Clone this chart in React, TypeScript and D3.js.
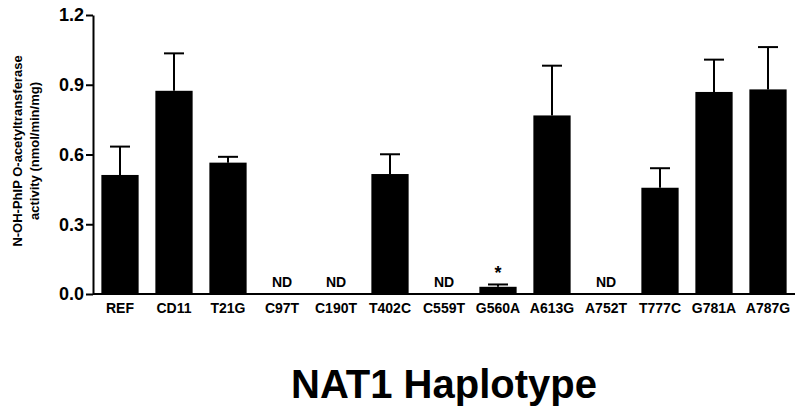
import React, { useEffect, useRef } from 'react';
import * as d3 from 'd3';

const haplotypes = ['REF', 'CD11', 'T21G', 'C97T', 'C190T', 'T402C', 'C559T', 'G560A', 'A613G', 'A752T', 'T777C', 'G781A', 'A787G'];
// null = not detected (ND)
const activity = [0.512, 0.874, 0.565, null, null, 0.516, null, 0.031, 0.768, null, 0.457, 0.869, 0.880];
const errUpper = [0.634, 1.035, 0.590, null, null, 0.601, null, 0.041, 0.982, null, 0.541, 1.008, 1.062];
const starred = ['G560A'];
const yTicks = [0, 0.3, 0.6, 0.9, 1.2];

export default function App() {
    const ref = useRef<SVGSVGElement | null>(null);
    useEffect(() => {
        const svg = d3.select(ref.current);
        svg.selectAll('*').remove();
        const width = 800, height = 408;
        const margin = { top: 15, right: 5, bottom: 114, left: 93 };
        const font = '"Liberation Sans", Arial, Helvetica, sans-serif';
        const data = haplotypes.map((k, i) => ({ k, v: activity[i], e: errUpper[i] }));

        const x = d3.scaleBand().domain(haplotypes).range([margin.left, width - margin.right]).paddingInner(0.31).paddingOuter(0.155);
        const y = d3.scaleLinear().domain([0, 1.2]).range([height - margin.bottom, margin.top]);

        svg.attr('viewBox', `0 0 ${width} ${height}`).attr('width', width).attr('height', height);

        // bars
        const measured = data.filter(d => d.v != null);
        svg.append('g').selectAll('rect').data(measured).join('rect')
            .attr('x', d => x(d.k)!)
            .attr('y', d => y(d.v as number))
            .attr('width', x.bandwidth())
            .attr('height', d => y(0) - y(d.v as number))
            .attr('fill', '#000');

        // error bars (upper only)
        const eb = svg.append('g').attr('stroke', '#000').attr('stroke-width', 2);
        measured.forEach(d => {
            const cx = x(d.k)! + x.bandwidth() / 2;
            eb.append('line').attr('x1', cx).attr('x2', cx).attr('y1', y(d.v as number)).attr('y2', y(d.e as number));
            eb.append('line').attr('x1', cx - 10).attr('x2', cx + 10).attr('y1', y(d.e as number)).attr('y2', y(d.e as number));
        });

        // ND labels
        svg.append('g').selectAll('text').data(data.filter(d => d.v == null)).join('text')
            .attr('x', d => x(d.k)! + x.bandwidth() / 2)
            .attr('y', y(0) - 7)
            .attr('text-anchor', 'middle')
            .attr('font-family', font).attr('font-weight', 'bold').attr('font-size', 14)
            .text('ND');

        // significance star
        svg.append('g').selectAll('text').data(data.filter(d => starred.includes(d.k))).join('text')
            .attr('x', d => x(d.k)! + x.bandwidth() / 2)
            .attr('y', d => y(d.e as number) - 5)
            .attr('text-anchor', 'middle')
            .attr('font-family', font).attr('font-weight', 'bold').attr('font-size', 18)
            .text('*');

        // axes
        const xa = svg.append('g').attr('transform', `translate(0,${y(0)})`)
            .call(d3.axisBottom(x).tickSize(0).tickPadding(9));
        xa.select('.domain').attr('stroke', '#000').attr('stroke-width', 2).attr('d', `M${margin.left},0H${width - margin.right}`);
        xa.selectAll('text').attr('font-family', font).attr('font-weight', 'bold').attr('font-size', 14).attr('fill', '#000');

        const ya = svg.append('g').attr('transform', `translate(${margin.left},0)`)
            .call(d3.axisLeft(y).tickValues(yTicks).tickFormat(d3.format('.1f')).tickSize(7).tickPadding(2).tickSizeOuter(0));
        ya.select('.domain').attr('stroke', '#000').attr('stroke-width', 2);
        ya.selectAll('.tick line').attr('stroke', '#000').attr('stroke-width', 2);
        ya.selectAll('text').attr('font-family', font).attr('font-weight', 'bold').attr('font-size', 18).attr('fill', '#000');

        // y axis title
        const yt = svg.append('text').attr('transform', `translate(0,151) rotate(-90)`)
            .attr('text-anchor', 'middle')
            .attr('font-family', font).attr('font-weight', 'bold').attr('font-size', 13);
        yt.append('tspan').attr('x', 0).attr('y', 22).text('N-OH-PhIP O-acetyltransferase');
        yt.append('tspan').attr('x', 0).attr('y', 39).text('activity (nmol/min/mg)');

        // x axis title
        svg.append('text')
            .attr('x', (margin.left + width - margin.right) / 2)
            .attr('y', 398)
            .attr('text-anchor', 'middle')
            .attr('font-family', font).attr('font-weight', 'bold').attr('font-size', 40)
            .text('NAT1 Haplotype');
    }, []);
    return <svg ref={ref} style={{ position: 'absolute', left: 0, top: 0, background: '#fff' }} />;
}
